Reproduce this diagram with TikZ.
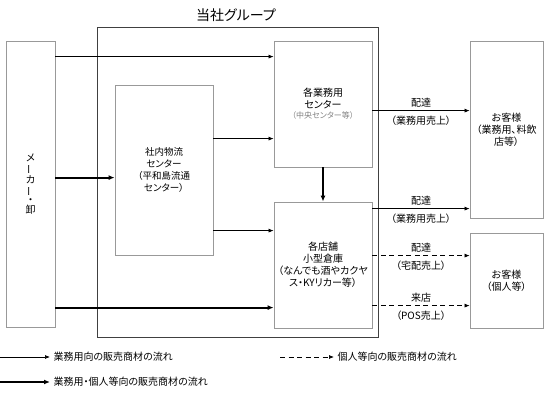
\documentclass[tikz,border=0pt]{standalone}
\usepackage{fontspec}
\setmainfont{Noto Sans CJK JP}[RawFeature={+palt}]
\usetikzlibrary{arrows.meta, positioning, calc}

\begin{document}
\begin{tikzpicture}[
        x=1pt, y=-1pt,
        font=\fontsize{10}{12}\selectfont,
        box/.style={rectangle, draw=black!40, line width=0.8pt, align=center, inner sep=0pt},
        groupbox/.style={rectangle, draw=black!75, line width=0.8pt, inner sep=0pt},
        flow/.style={-{Latex[length=5pt, width=4pt]}, line width=0.7pt},
        bigflow/.style={-{Latex[length=6pt, width=5pt]}, line width=2pt},
        shopflow/.style={-{Latex[length=5pt, width=4pt]}, line width=0.7pt, dash pattern=on 5pt off 3.5pt},
        lbl/.style={inner sep=1pt}
    ]
    \useasboundingbox (0,0) rectangle (544,393);

    % title and group frame
    \node (title) at (236,15) {\fontsize{14}{16}\selectfont 当社グループ};
    \node (group) [groupbox, minimum width=281pt, minimum height=310pt] at (237.5,182) {};

    % boxes
    \node (maker) [box, minimum width=49pt, minimum height=286pt, font=\fontsize{10}{10}\selectfont] at (30.5,184)
        {メ\\\rotatebox[origin=c]{90}{ー}\\カ\\\rotatebox[origin=c]{90}{ー}\\・\\卸};
    \node (butsuryu) [box, minimum width=98pt, minimum height=170pt, font=\fontsize{9.5}{11.7}\selectfont] at (164,170)
        {社内物流\\センター\\（平和島流通\\センター）};
    \node (gyomu) [box, minimum width=98pt, minimum height=126pt] at (323,104)
        {各業務用\\センター\\[-2pt]{\color{black!50}\fontsize{8}{9}\selectfont（中央センター等）}};
    \node (tenpo) [box, minimum width=98pt, minimum height=126pt] at (323,265)
        {各店舗\\小型倉庫\\（なんでも酒やカクヤ\\ス・KYリカー等）};
    \node (kyaku1) [box, minimum width=73pt, minimum height=177pt] at (506.5,129.5)
        {お客様\\（業務用、料飲\\店等）};
    \node (kyaku2) [box, minimum width=73pt, minimum height=95pt] at (506.5,280.5)
        {お客様\\（個人等）};

    % flows into the group
    \draw[flow] ([yshift=-16pt]maker.north east) -- ([yshift=-16pt]gyomu.north west);
    \draw[bigflow] ([yshift=-137pt]maker.north east) -- ([yshift=-93pt]butsuryu.north west);
    \draw[bigflow] ([yshift=-267pt]maker.north east) -- ([yshift=-106pt]tenpo.north west);
    \draw[flow] ([yshift=-54pt]butsuryu.north east) -- ([yshift=-98pt]gyomu.north west);
    \draw[flow] ([yshift=-146pt]butsuryu.north east) -- ([yshift=-29pt]tenpo.north west);
    \draw[bigflow] (gyomu) -- (tenpo);

    % flows to customers
    \draw[flow] ([yshift=-70pt]gyomu.north east) -- ([yshift=-70pt]kyaku1.north west)
        node[lbl, midway, above=2pt] {配達} node[lbl, midway, below=4pt] {（業務用売上）};
    \draw[flow] ([yshift=-7pt]tenpo.north east) -- ([yshift=-168pt]kyaku1.north west)
        node[lbl, midway, above=2pt] {配達} node[lbl, midway, below=4pt] {（業務用売上）};
    \draw[shopflow] ([yshift=-54pt]tenpo.north east) -- ([yshift=-23pt]kyaku2.north west)
        node[lbl, midway, above=2pt] {配達} node[lbl, midway, below=4pt] {（宅配売上）};
    \draw[shopflow] ([yshift=-104pt]tenpo.north east) -- ([yshift=-73pt]kyaku2.north west)
        node[lbl, midway, above=2pt] {来店} node[lbl, midway, below=4pt] {（POS売上）};

    % legend
    \coordinate (lgthin) at (0,357);
    \coordinate (lgbig) at (0,382);
    \coordinate (lgshop) at (280,357);
    \node (lgthintext) [anchor=west] at (50,357) {業務用向の販売商材の流れ};
    \node (lgbigtext) [anchor=west] at (50,382) {業務用・個人等向の販売商材の流れ};
    \node (lgshoptext) [anchor=west] at (334,357) {個人等向の販売商材の流れ};
    \draw[flow] (lgthin) -- (lgthintext);
    \draw[bigflow] (lgbig) -- (lgbigtext);
    \draw[shopflow] (lgshop) -- (lgshoptext);
\end{tikzpicture}
\end{document}
